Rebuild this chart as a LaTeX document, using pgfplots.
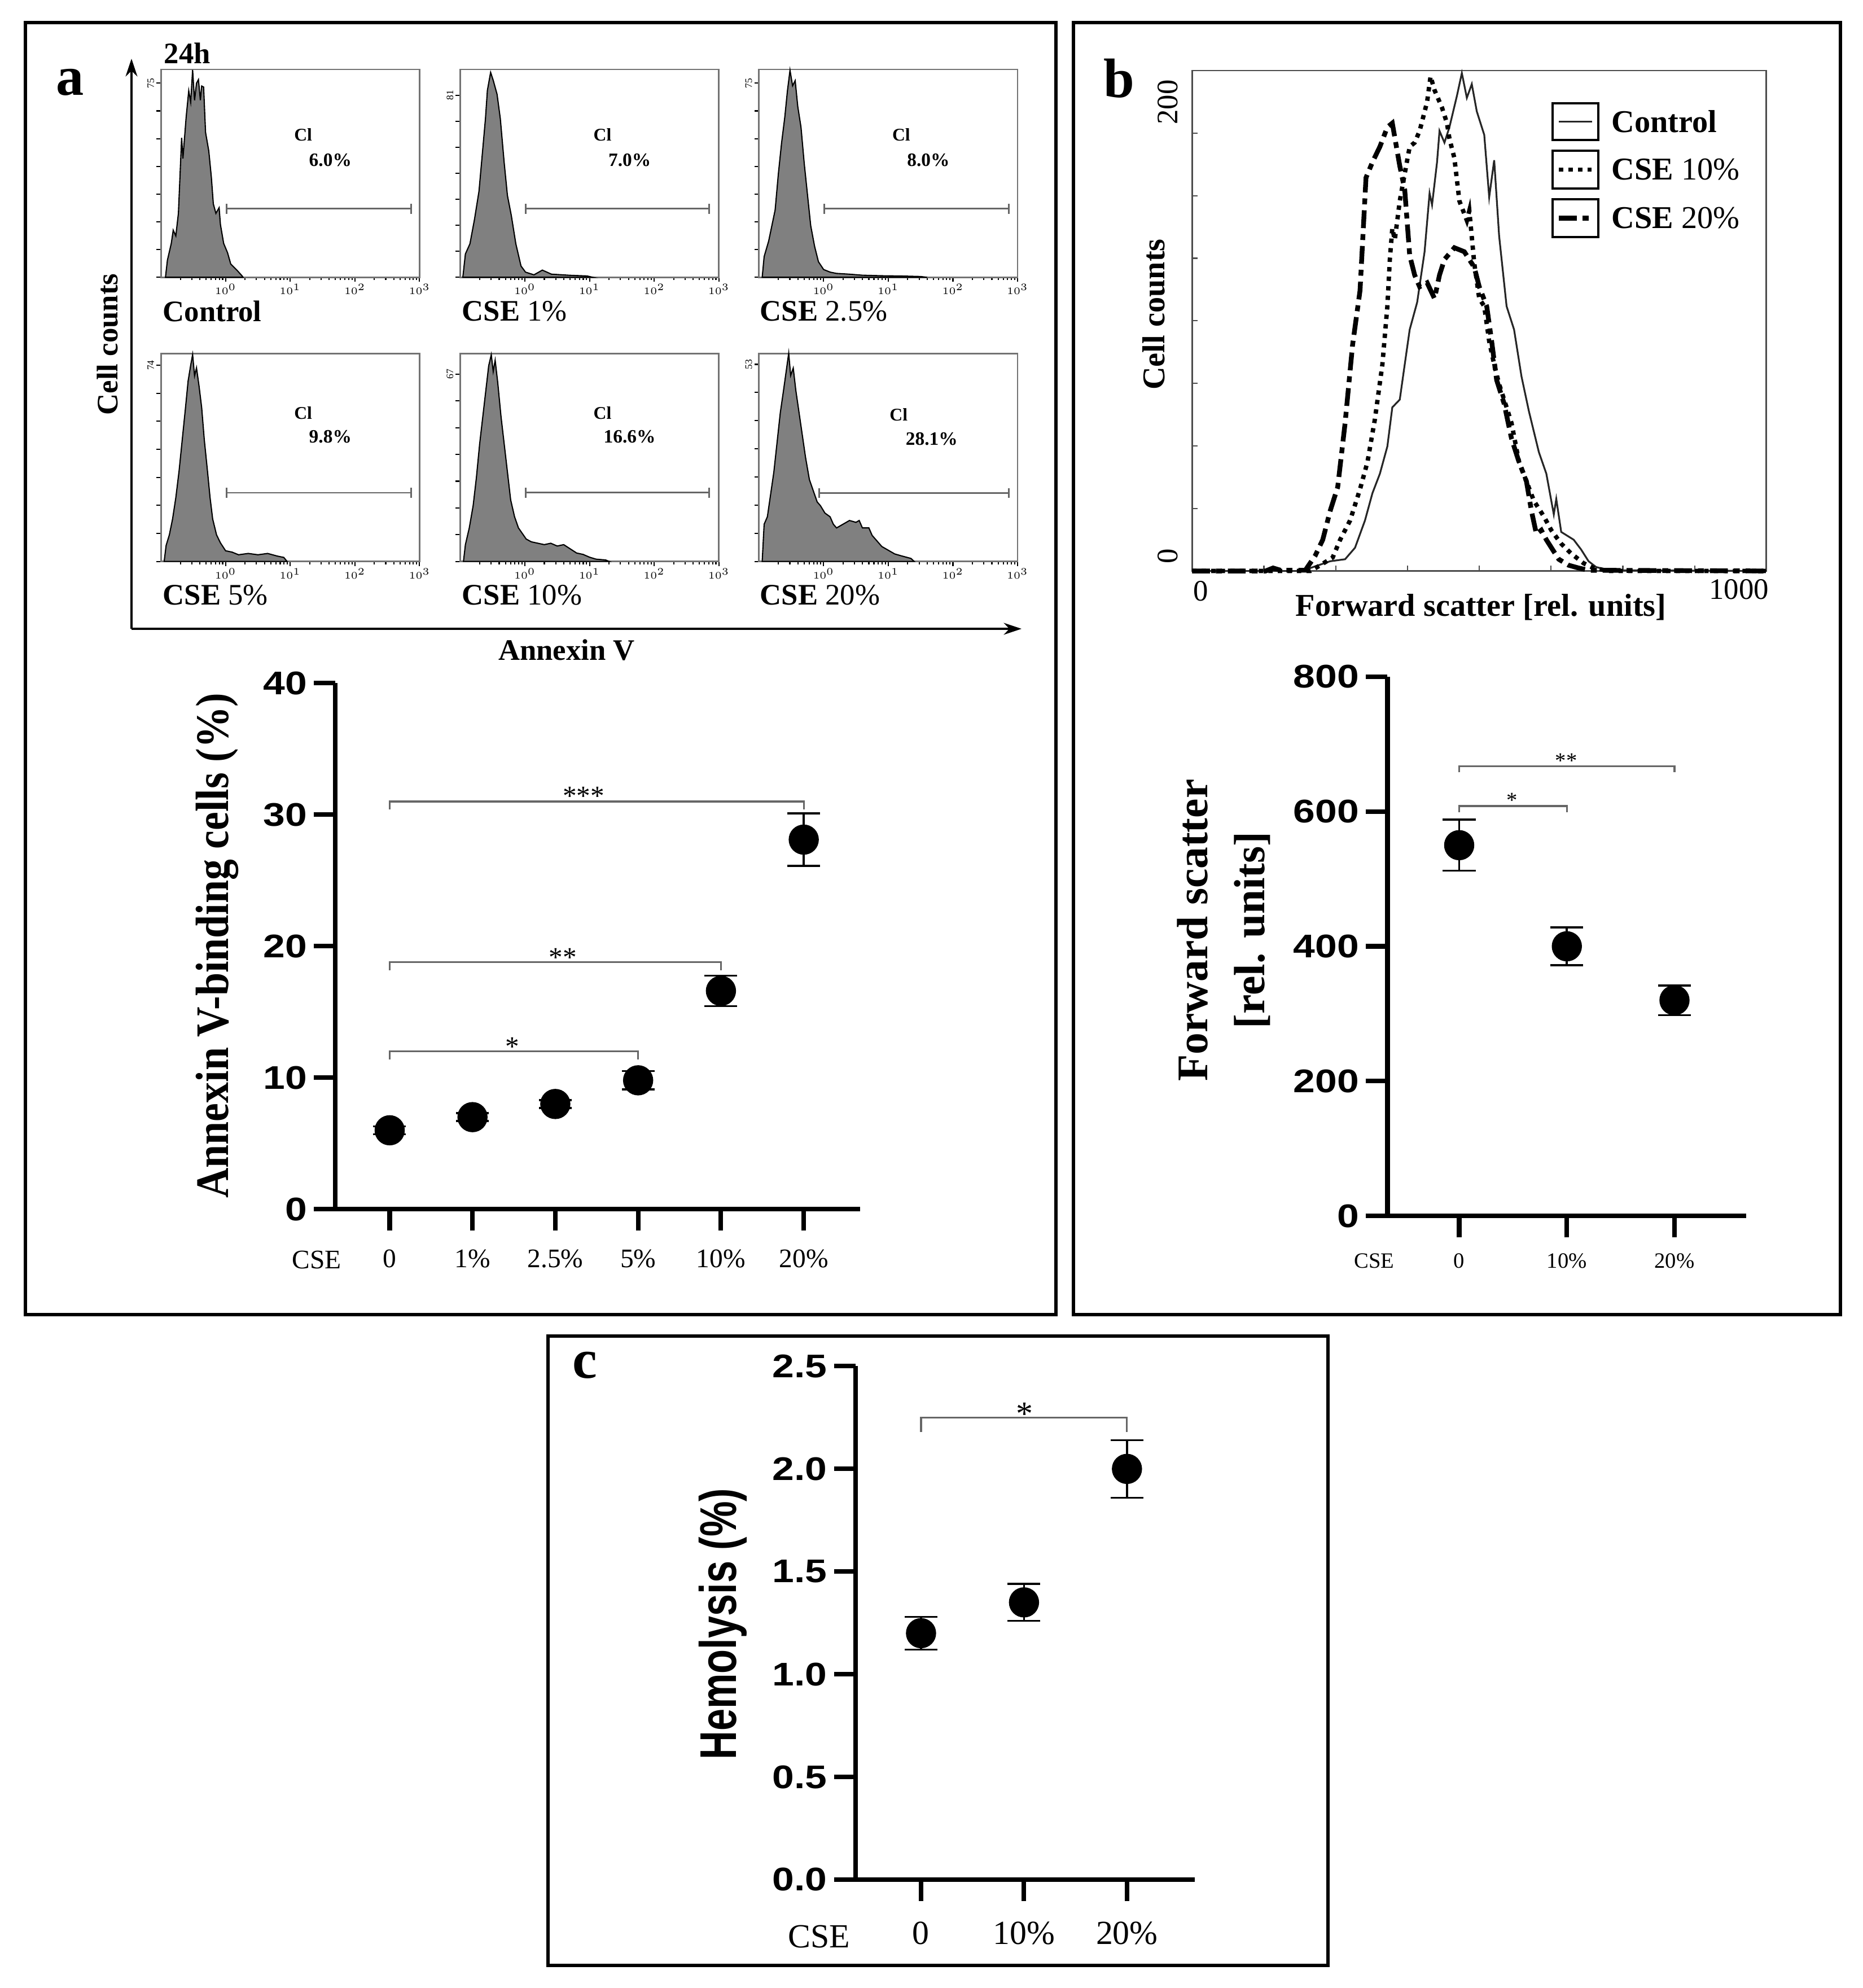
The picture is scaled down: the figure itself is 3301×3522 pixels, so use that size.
\documentclass[border=0pt]{standalone}
\usepackage{fontspec}
\setmainfont{Liberation Serif}
\newfontfamily\gpsans[FakeStretch=1.2]{Liberation Sans}
\newfontfamily\plainsans{Liberation Sans}
\usepackage{pgfplots}
\pgfplotsset{compat=1.18}
\usetikzlibrary{arrows.meta}

\newcommand{\fs}[1]{\fontsize{#1}{#1}\selectfont}

\pgfplotsset{
  gp/.style={
    scale only axis, clip=false,
    axis x line*=bottom, axis y line*=left,
    axis line style={line width=2.3pt},
    tick style={line width=2.3pt, black},
    tick align=outside, major tick length=0.38cm,
    ymin=0,
    yticklabel style={font=\gpsans\bfseries\fs{16.5}},
  },
  dots/.style={black, only marks, mark=*, mark size=7.4pt,
    error bars/.cd, y dir=both, y explicit,
    error bar style={line width=1pt, black},
    error mark options={rotate=90, mark size=0.29cm, line width=1pt, black}},
  mini/.style={
    scale only axis, width=4.58cm, height=3.68cm, clip=false,
    xmin=-1, xmax=3, ymin=0,
    axis line style={line width=0.8pt, black!55},
    xtick={0,1,2,3},
    xticklabels={$10^0$,$10^1$,$10^2$,$10^3$},
    minor xtick={-0.699,-0.523,-0.398,-0.301,-0.222,-0.155,-0.097,-0.046,
      0.301,0.477,0.602,0.699,0.778,0.845,0.903,0.954,
      1.301,1.477,1.602,1.699,1.778,1.845,1.903,1.954,
      2.301,2.477,2.602,2.699,2.778,2.845,2.903,2.954},
    xtick pos=bottom, ytick pos=left,
    tick align=outside,
    major tick length=0.08cm, minor tick length=0.05cm,
    tick style={black, line width=0.6pt},
    tick label style={font=\fs{5}},
    yticklabel style={rotate=90, anchor=south, inner sep=1pt},
    xticklabel style={inner sep=1pt},
  },
  hist/.style={draw=black, line width=0.6pt, fill=gray},
}
\tikzset{
  gate/.style={line width=0.8pt, black!60, {Bar[width=5pt]}-{Bar[width=5pt]}},
  bracket/.style={line width=0.9pt, black!60},
  lab/.style={anchor=west, inner sep=0pt},
}

\begin{document}
\begin{tikzpicture}[x=0.01cm, y=-0.01cm]
\path[use as bounding box] (0,0) rectangle (3301,3522);

% panel frames
\draw[line width=1.6pt] (45,40) rectangle (1871,2329);
\draw[line width=1.6pt] (1902,40) rectangle (3261,2329);
\draw[line width=1.6pt] (971,2367) rectangle (2353,3482);

\node[font=\bfseries\fs{28}] at (124,146) {a};
\node[font=\bfseries\fs{28}] at (1983,139) {b};
\node[font=\bfseries\fs{28}] at (1036,2419) {c};

% ---------- panel a: flow histograms ----------
\node[lab, font=\bfseries\fs{15}] at (290,94) {24h};
\draw[line width=1pt, -{Stealth[length=9pt, width=6pt]}] (233,1114) -- (233,104);
\draw[line width=1pt, -{Stealth[length=9pt, width=6pt]}] (233,1114) -- (1810,1114);
\node[rotate=90, font=\bfseries\fs{15}] at (191,610) {Cell counts};
\node[font=\bfseries\fs{15}] at (1004,1152) {Annexin V};

\begin{axis}[mini, at={(2.85cm,-4.91cm)}, anchor=south west, ymax=80.3,
  ytick={0,10.714,21.429,32.143,42.857,53.571,64.286,75}, yticklabels={,,,,,,,75}]
\addplot[hist] coordinates {(-0.93,0) (-0.90,6.6) (-0.84,13.1) (-0.81,18.2) (-0.77,16.0) (-0.73,24.7) (-0.68,53.9) (-0.66,45.9) (-0.61,61.9) (-0.57,72.1) (-0.54,67.7) (-0.51,80.1) (-0.48,68.4) (-0.45,75.0) (-0.42,76.4) (-0.39,68.4) (-0.37,73.9) (-0.34,73.5) (-0.31,56.0) (-0.26,48.8) (-0.22,38.6) (-0.19,28.4) (-0.15,24.7) (-0.10,26.9) (-0.08,20.4) (-0.03,13.1) (0.03,9.5) (0.08,5.1) (0.17,2.9) (0.26,0.4) (0.27,0)} \closedcycle;
\draw[gate] (axis cs:0,26.5) -- (axis cs:2.88,26.5);
\node[font=\bfseries\fs{9}] at (rel axis cs:0.55,0.685) {Cl};
\node[font=\bfseries\fs{9.5}] at (rel axis cs:0.655,0.565) {6.0\%};
\end{axis}
\node[lab, font=\bfseries\fs{15}] at (288,551) {Control};

\begin{axis}[mini, at={(8.15cm,-4.91cm)}, anchor=south west, ymax=92.5,
  ytick={0,11.571,23.143,34.714,46.286,57.857,69.429,81}, yticklabels={,,,,,,,81}]
\addplot[hist] coordinates {(-0.96,0) (-0.92,10.4) (-0.85,14.9) (-0.78,25.7) (-0.71,38.3) (-0.66,54.4) (-0.61,70.6) (-0.58,83.2) (-0.53,91.2) (-0.49,87.7) (-0.43,81.4) (-0.38,70.6) (-0.32,50.9) (-0.27,36.4) (-0.21,27.5) (-0.14,14.9) (-0.06,5.0) (0.01,2.3) (0.14,1.1) (0.27,3.2) (0.41,1.4) (0.69,0.9) (0.96,0.6) (1.05,0)} \closedcycle;
\draw[gate] (axis cs:0,30.5) -- (axis cs:2.86,30.5);
\node[font=\bfseries\fs{9}] at (rel axis cs:0.55,0.685) {Cl};
\node[font=\bfseries\fs{9.5}] at (rel axis cs:0.655,0.565) {7.0\%};
\end{axis}
\node[lab, font=\fs{15}] at (818,551) {\textbf{CSE} 1\%};

\begin{axis}[mini, at={(13.44cm,-4.91cm)}, anchor=south west, ymax=80.3,
  ytick={0,10.714,21.429,32.143,42.857,53.571,64.286,75}, yticklabels={,,,,,,,75}]
\addplot[hist] coordinates {(-0.95,0) (-0.92,8) (-0.85,14) (-0.80,20) (-0.75,26) (-0.70,40) (-0.65,52) (-0.60,62) (-0.56,72) (-0.52,80) (-0.48,74) (-0.44,76) (-0.40,66) (-0.35,58) (-0.30,44) (-0.25,32) (-0.20,20) (-0.14,12) (-0.08,6) (0.0,3) (0.1,2) (0.2,1.5) (0.4,1.2) (0.6,0.8) (0.9,0.6) (1.2,0.5) (1.5,0.3) (1.6,0)} \closedcycle;
\draw[gate] (axis cs:0,26.5) -- (axis cs:2.88,26.5);
\node[font=\bfseries\fs{9}] at (rel axis cs:0.55,0.685) {Cl};
\node[font=\bfseries\fs{9.5}] at (rel axis cs:0.655,0.565) {8.0\%};
\end{axis}
\node[lab, font=\fs{15}] at (1346,551) {\textbf{CSE} 2.5\%};

\begin{axis}[mini, at={(2.85cm,-9.94cm)}, anchor=south west, ymax=78.4,
  ytick={0,10.571,21.143,31.714,42.286,52.857,63.429,74}, yticklabels={,,,,,,,74}]
\addplot[hist] coordinates {(-0.95,0) (-0.92,6) (-0.87,10) (-0.82,16) (-0.77,24) (-0.72,34) (-0.67,46) (-0.62,58) (-0.58,68) (-0.54,74) (-0.51,78) (-0.48,70) (-0.45,73) (-0.41,66) (-0.37,58) (-0.33,46) (-0.28,34) (-0.24,24) (-0.20,16) (-0.14,10) (-0.08,7) (0.0,4) (0.1,3.5) (0.2,2.5) (0.35,3) (0.5,2.5) (0.65,3) (0.8,2) (0.9,1.5) (0.95,0)} \closedcycle;
\draw[gate] (axis cs:0,25.9) -- (axis cs:2.88,25.9);
\node[font=\bfseries\fs{9}] at (rel axis cs:0.55,0.715) {Cl};
\node[font=\bfseries\fs{9.5}] at (rel axis cs:0.655,0.60) {9.8\%};
\end{axis}
\node[lab, font=\fs{15}] at (288,1054) {\textbf{CSE} 5\%};

\begin{axis}[mini, at={(8.15cm,-9.94cm)}, anchor=south west, ymax=74.4,
  ytick={0,9.571,19.143,28.714,38.286,47.857,57.429,67}, yticklabels={,,,,,,,67}]
\addplot[hist] coordinates {(-0.95,0) (-0.92,6) (-0.86,12) (-0.80,20) (-0.75,30) (-0.70,42) (-0.65,52) (-0.60,62) (-0.56,70) (-0.52,74) (-0.49,68) (-0.46,72) (-0.42,64) (-0.37,52) (-0.32,42) (-0.27,32) (-0.22,22) (-0.16,16) (-0.10,12) (-0.04,10) (0.02,8) (0.1,7) (0.2,6.5) (0.3,6) (0.4,6.5) (0.5,5.5) (0.6,6) (0.7,4.5) (0.8,3) (0.9,2.5) (1.0,1.5) (1.1,0.8) (1.25,0.5) (1.3,0)} \closedcycle;
\draw[gate] (axis cs:0,24.6) -- (axis cs:2.86,24.6);
\node[font=\bfseries\fs{9}] at (rel axis cs:0.55,0.715) {Cl};
\node[font=\bfseries\fs{9.5}] at (rel axis cs:0.655,0.60) {16.6\%};
\end{axis}
\node[lab, font=\fs{15}] at (818,1054) {\textbf{CSE} 10\%};

\begin{axis}[mini, at={(13.44cm,-9.94cm)}, anchor=south west, ymax=55.9,
  ytick={0,7.571,15.143,22.714,30.286,37.857,45.429,53}, yticklabels={,,,,,,,53}]
\addplot[hist] coordinates {(-0.95,0) (-0.92,10) (-0.87,12) (-0.82,18) (-0.77,24) (-0.72,32) (-0.67,40) (-0.62,46) (-0.58,51) (-0.54,56) (-0.51,50) (-0.47,52) (-0.43,46) (-0.38,40) (-0.33,34) (-0.28,28) (-0.22,22) (-0.16,19) (-0.10,16) (-0.05,15) (0.02,13) (0.1,12) (0.15,10) (0.2,9) (0.3,10) (0.4,11) (0.5,10.5) (0.55,11) (0.6,9) (0.7,9) (0.75,7) (0.8,6) (0.9,4) (1.0,3) (1.1,2) (1.2,1.5) (1.35,0.8) (1.4,0)} \closedcycle;
\draw[gate] (axis cs:-0.08,18.4) -- (axis cs:2.88,18.4);
\node[font=\bfseries\fs{9}] at (rel axis cs:0.54,0.705) {Cl};
\node[font=\bfseries\fs{9.5}] at (rel axis cs:0.668,0.59) {28.1\%};
\end{axis}
\node[lab, font=\fs{15}] at (1346,1054) {\textbf{CSE} 20\%};

% ---------- panel a: Annexin V binding ----------
\begin{axis}[gp, at={(5.94cm,-21.41cm)}, anchor=south west,
  width=9.29cm, height=9.315cm,
  xmin=-0.655, xmax=5.68, ymax=40,
  ytick={0,10,20,30,40}, yticklabels={0,10,20,30,40},
  xtick={0,1,2,3,4,5}, xticklabels={0,1\%,2.5\%,5\%,10\%,20\%},
  xticklabel style={font=\fs{13.5}, yshift=-0.21cm}]
\addplot[dots] coordinates {(0,6.0) +- (0,0.3) (1,7.0) +- (0,0.3) (2,8.0) +- (0,0.3) (3,9.8) +- (0,0.7) (4,16.6) +- (0,1.15) (5,28.1) +- (0,2.0)};
\draw[bracket] (axis cs:0,30.4) |- (axis cs:5,31) -- (axis cs:5,30.4);
\draw[bracket] (axis cs:0,18.15) |- (axis cs:4,18.8) -- (axis cs:4,18.15);
\draw[bracket] (axis cs:0,11.4) |- (axis cs:3,12.0) -- (axis cs:3,11.4);
\end{axis}
\node[font=\fs{13.5}] at (561,2232) {CSE};
\node[anchor=base, font=\fs{14}] at (1034,1426) {***};
\node[anchor=base, font=\fs{14}] at (997,1712) {**};
\node[anchor=base, font=\fs{14}] at (908,1870) {*};
\node[rotate=90, font=\bfseries\fs{21}] at (385,1675) {\scalebox{1}[1.12]{Annexin V-binding cells (\%)}};

% ---------- panel b: forward scatter histogram ----------
\begin{axis}[at={(21.11cm,-10.11cm)}, anchor=south west, scale only axis,
  width=10.17cm, height=8.86cm, clip=false,
  xmin=0, xmax=1000, ymin=0, ymax=200,
  axis line style={line width=0.8pt, black!70},
  xtick={0,125,...,1000}, ytick={0,25,...,200},
  xticklabels={}, yticklabels={},
  xtick pos=bottom, ytick pos=left,
  tick align=inside, major tick length=0.1cm,
  tick style={line width=0.6pt, black!70}]
\addplot[black!85, line width=0.9pt] coordinates {(0,0) (188.6,0) (205.9,1.2) (240.5,3.9) (266.4,4.7) (283.7,9.3) (301.0,20.2) (314.0,31.1) (327.0,38.9) (340.0,49.8) (348.6,65.4) (361.6,68.5) (370.2,82.5) (378.9,96.5) (391.9,107.4) (404.8,127.6) (413.5,151.0) (417.8,146.3) (426.5,163.4) (430.8,175.9) (439.4,171.2) (448.1,177.4) (461.1,189.9) (469.7,199.0) (478.4,189.1) (487.0,194.6) (495.7,183.7) (508.7,174.3) (517.3,149.4) (526.0,164.2) (534.6,133.9) (547.6,105.8) (560.6,96.5) (573.5,77.8) (586.5,63.8) (603.8,47.5) (616.8,38.9) (629.8,22.6) (634.1,28.8) (642.7,15.6) (664.4,12.5) (677.3,8.6) (690.3,3.9) (703.3,1.6) (724.9,0.3) (1000,0)};
\addplot[black, line width=2.2pt, dash pattern=on 2.2pt off 2.6pt] coordinates {(0,0) (205.9,0) (223.2,2.3) (244.8,5.4) (257.8,12.5) (275.1,20.2) (292.4,32.7) (305.4,43.6) (318.3,60.7) (331.3,82.5) (340.0,105.8) (344.3,124.5) (348.6,137.0) (352.9,132.3) (361.6,147.9) (370.2,158.8) (378.9,169.6) (387.5,171.2) (396.2,175.9) (409.2,187.5) (415.2,197.7) (422.1,192.2) (435.1,185.2) (443.8,179.0) (448.1,172.8) (456.7,165.0) (465.4,147.9) (478.4,140.1) (482.7,144.0) (491.3,123.0) (500.0,108.9) (508.7,105.8) (517.3,91.8) (526.0,82.5) (534.6,74.7) (547.6,65.4) (556.2,59.1) (569.2,43.6) (582.2,35.8) (595.2,28.0) (612.5,21.8) (625.4,16.3) (642.7,10.9) (660.0,7.0) (681.7,3.1) (699.0,1.2) (724.9,0) (1000,0)};
\addplot[black, line width=2.4pt, dash pattern=on 9pt off 3pt on 3pt off 3pt] coordinates {(0,0) (128.0,0) (141.0,1.2) (154.0,0.3) (197.2,0.3) (214.5,6.2) (227.5,12.5) (240.5,24.1) (253.5,33.5) (266.4,59.1) (279.4,90.3) (292.4,112.1) (302.8,157.2) (314.0,163.4) (327.0,169.6) (340.0,177.4) (348.6,179.0) (361.6,161.9) (370.2,152.5) (378.9,126.1) (387.5,118.3) (396.2,113.6) (409.2,115.2) (422.1,108.9) (430.8,118.3) (439.4,124.5) (456.7,129.2) (474.0,127.6) (491.3,121.4) (500.0,113.6) (513.0,105.8) (521.6,91.8) (530.3,76.3) (543.3,66.9) (556.2,52.9) (569.2,43.6) (582.2,35.8) (590.8,24.1) (599.5,14.8) (608.1,16.3) (616.8,12.5) (629.8,7.8) (638.4,4.7) (655.7,2.3) (673.0,1.2) (690.3,0.3) (1000,0)};
\end{axis}
\node[font=\fs{15}] at (2128,1047) {0};
\node[font=\fs{15}] at (3081,1044) {1000};
\node[rotate=90, font=\fs{15}] at (2069,181) {200};
\node[rotate=90, font=\fs{15}] at (2069,985) {0};
\node[rotate=90, font=\bfseries\fs{16}] at (2044,557) {Cell counts};
\node[font=\bfseries\fs{16}] at (2624,1076) {Forward scatter [rel. units]};
% legend
\draw[line width=1pt] (2751,183) rectangle (2832,248);
\draw[line width=1pt] (2751,267) rectangle (2832,334);
\draw[line width=1pt] (2751,353) rectangle (2832,420);
\draw[black!85, line width=0.9pt] (2762,215.5) -- (2821,215.5);
\draw[black, line width=2.2pt, dash pattern=on 2.2pt off 2.6pt] (2762,300.5) -- (2821,300.5);
\draw[black, line width=2.4pt, dash pattern=on 9pt off 3pt on 3pt off 3pt] (2762,386.5) -- (2821,386.5);
\node[lab, font=\bfseries\fs{16}] at (2855,215.5) {Control};
\node[lab, font=\fs{16}] at (2855,300.5) {\textbf{CSE} 10\%};
\node[lab, font=\fs{16}] at (2855,386.5) {\textbf{CSE} 20\%};

% ---------- panel b: forward scatter means ----------
\begin{axis}[gp, at={(24.57cm,-21.53cm)}, anchor=south west,
  width=6.35cm, height=9.55cm,
  xmin=-0.666, xmax=2.665, ymax=800,
  ytick={0,200,400,600,800}, yticklabels={0,200,400,600,800},
  xtick={0,1,2}, xticklabels={0,10\%,20\%},
  xticklabel style={font=\fs{11}, yshift=-0.16cm}]
\addplot[dots] coordinates {(0,550) +- (0,38) (1,400) +- (0,28) (2,320) +- (0,22)};
\draw[bracket] (axis cs:0,658) |- (axis cs:2,667) -- (axis cs:2,658);
\draw[bracket] (axis cs:0,599) |- (axis cs:1,608) -- (axis cs:1,599);
\end{axis}
\node[font=\fs{11}] at (2435,2234) {CSE};
\node[anchor=base, font=\fs{11}] at (2775,1360) {**};
\node[anchor=base, font=\fs{11}] at (2679,1430) {*};
\node[rotate=90, align=center, font=\bfseries\fontsize{22}{28.7}\selectfont] at (2168,1648) {Forward scatter\\{[}rel. units{]}};

% ---------- panel c: hemolysis ----------
\begin{axis}[gp, at={(15.15cm,-33.28cm)}, anchor=south west,
  width=6.01cm, height=9.09cm,
  xmin=-0.636, xmax=2.66, ymax=2.5,
  ytick={0,0.5,1,1.5,2,2.5}, yticklabels={0.0,0.5,1.0,1.5,2.0,2.5},
  xtick={0,1,2}, xticklabels={0,10\%,20\%},
  xticklabel style={font=\fs{17}, yshift=-0.24cm}]
\addplot[dots] coordinates {(0,1.2) +- (0,0.08) (1,1.35) +- (0,0.09) (2,2.0) +- (0,0.14)};
\draw[bracket] (axis cs:0,2.18) |- (axis cs:2,2.25) -- (axis cs:2,2.18);
\end{axis}
\node[font=\fs{17}] at (1451,3431) {CSE};
\node[anchor=base, font=\fs{17}] at (1815,2524) {*};
\node[rotate=90, font=\plainsans\bfseries\fs{20}] at (1281,2877) {\scalebox{1}[1.3]{Hemolysis (\%)}};

\end{tikzpicture}
\end{document}
